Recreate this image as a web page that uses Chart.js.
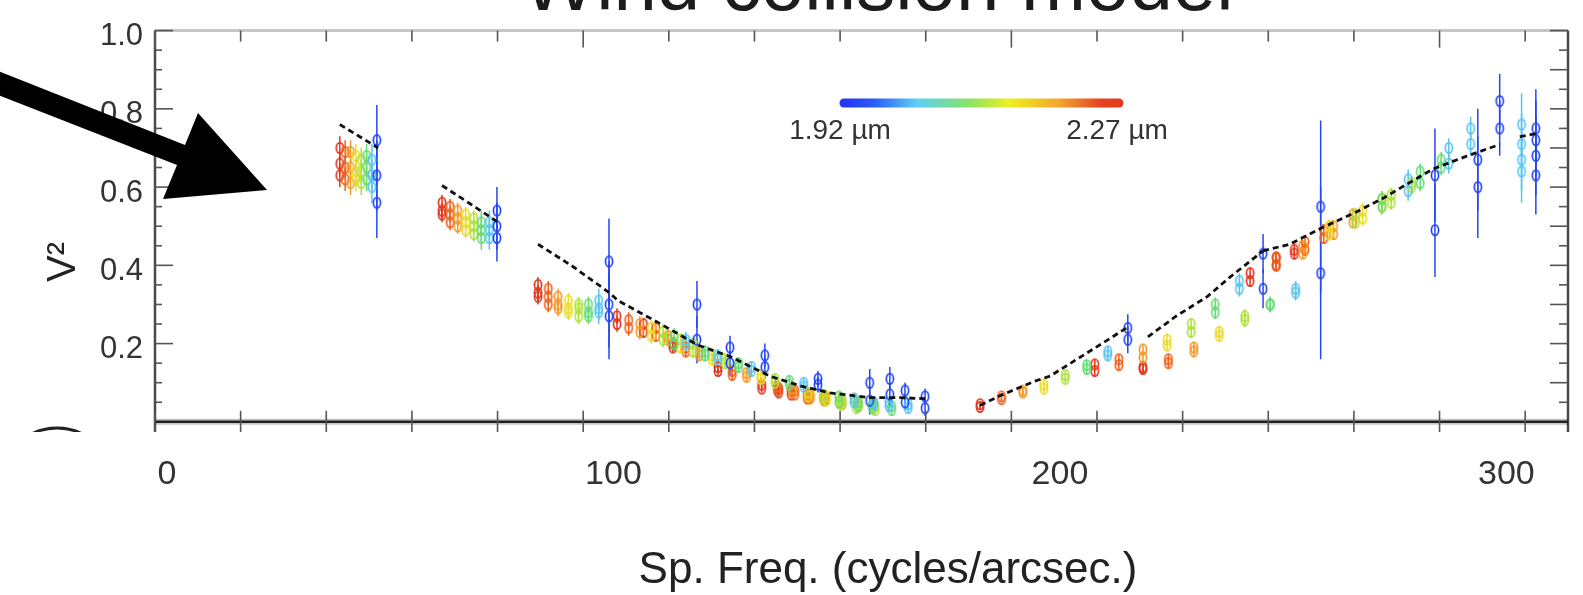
<!DOCTYPE html>
<html>
<head>
<meta charset="utf-8">
<title>Wind collision model</title>
<script src="https://cdn.jsdelivr.net/npm/chart.js@4.4.1/dist/chart.umd.min.js"></script>
<style>
  html, body { margin: 0; padding: 0; background: #fff; }
  #v2Chart { display: block; }
</style>
</head>
<body>
<canvas id="v2Chart" width="1583" height="595"></canvas>
<script>
// spectral channels, long -> short wavelength (red -> blue)
const wavelengths = [2.27, 2.22, 2.17, 2.12, 2.07, 2.02, 1.97, 1.92];
const channelColors = ['#e2361d', '#f0601c', '#f59a26', '#ecdc22', '#aee23a', '#62dc74', '#58c4f2', '#2446f4'];

const xTickValues = [0, 100, 200, 300];
const yLabelValues = [0.2, 0.4, 0.6, 0.8, 1.0];

// one block per baseline: sp. freq. per channel, repeated V2 rows, error per channel
// (shorter blocks use the last channels of the list)
const clA = { x: [38.7, 39.9, 41.1, 42.3, 43.5, 44.7, 45.9, 47.0],
  v2: [[0.70, 0.69, 0.69, 0.68, 0.67, 0.68, 0.67, 0.72],
       [0.66, 0.65, 0.65, 0.64, 0.64, 0.65, 0.63, 0.63],
       [0.63, 0.62, 0.61, 0.62, 0.61, 0.62, 0.60, 0.56]],
  err: [0.03, 0.03, 0.03, 0.03, 0.03, 0.03, 0.04, 0.09] };
const clB = { x: [61.6, 63.4, 65.1, 66.9, 68.7, 70.4, 72.2, 73.9],
  v2: [[0.56, 0.55, 0.54, 0.53, 0.52, 0.51, 0.51, 0.54],
       [0.54, 0.53, 0.52, 0.51, 0.50, 0.49, 0.49, 0.50],
       [0.53, 0.51, 0.50, 0.49, 0.48, 0.47, 0.47, 0.47]],
  err: [0.02, 0.02, 0.02, 0.02, 0.02, 0.03, 0.03, 0.06] };
const clC = { x: [83.1, 85.4, 87.6, 89.9, 92.2, 94.4, 96.7, 99.0],
  v2: [[0.35, 0.34, 0.32, 0.31, 0.30, 0.30, 0.31, 0.41],
       [0.33, 0.32, 0.30, 0.29, 0.29, 0.28, 0.29, 0.30],
       [0.32, 0.30, 0.29, 0.28, 0.27, 0.27, 0.28, 0.27]],
  err: [0.02, 0.02, 0.02, 0.02, 0.02, 0.02, 0.03, 0.11] };
const clD = { x: [100.8, 103.4, 105.9, 108.5, 111.1, 113.6, 116.2, 118.7],
  v2: [[0.27, 0.26, 0.25, 0.24, 0.23, 0.22, 0.21, 0.30],
       [0.25, 0.24, 0.23, 0.22, 0.21, 0.20, 0.20, 0.21]],
  err: [0.02, 0.02, 0.02, 0.02, 0.02, 0.02, 0.02, 0.06] };
const clE = { x: [106.7, 109.5, 112.2, 115.0, 117.8, 120.5, 123.3, 126.1],
  v2: [[0.25, 0.24, 0.22, 0.21, 0.20, 0.18, 0.17, 0.19],
       [0.23, 0.22, 0.21, 0.19, 0.18, 0.17, 0.16, 0.15]],
  err: [0.015, 0.015, 0.015, 0.015, 0.015, 0.015, 0.015, 0.03] };
const clF = { x: [113.3, 116.2, 119.2, 122.1, 125.0, 128.0, 130.9, 133.9],
  v2: [[0.20, 0.19, 0.18, 0.17, 0.16, 0.15, 0.14, 0.17],
       [0.19, 0.18, 0.17, 0.16, 0.15, 0.14, 0.13, 0.14]],
  err: [0.015, 0.015, 0.015, 0.015, 0.015, 0.015, 0.015, 0.03] };
const clG = { x: [123.4, 126.6, 129.8, 133.0, 136.2, 139.4, 142.6, 145.8],
  v2: [[0.14, 0.13, 0.125, 0.12, 0.11, 0.105, 0.10, 0.11],
       [0.13, 0.12, 0.115, 0.11, 0.10, 0.095, 0.09, 0.095]],
  err: [0.012, 0.012, 0.012, 0.012, 0.012, 0.012, 0.012, 0.02] };
const clH = { x: [133.2, 136.7, 140.1, 143.6, 147.0, 150.5, 153.9, 157.4],
  v2: [[0.095, 0.09, 0.085, 0.075, 0.07, 0.065, 0.06, 0.10],
       [0.085, 0.08, 0.075, 0.065, 0.06, 0.05, 0.05, 0.054]],
  err: [0.01, 0.01, 0.01, 0.01, 0.01, 0.01, 0.012, 0.035] };
const clI = { x: [137.0, 140.6, 144.1, 147.7, 151.2, 154.8, 158.3, 161.9],
  v2: [[0.085, 0.08, 0.07, 0.065, 0.055, 0.05, 0.05, 0.11],
       [0.075, 0.07, 0.06, 0.055, 0.045, 0.04, 0.045, 0.07]],
  err: [0.01, 0.01, 0.01, 0.01, 0.01, 0.01, 0.012, 0.03] };
const clJ = { x: [139.8, 143.4, 147.1, 150.7, 154.4, 158.0, 161.7, 165.3],
  v2: [[0.08, 0.07, 0.065, 0.055, 0.05, 0.045, 0.05, 0.08],
       [0.07, 0.06, 0.055, 0.045, 0.035, 0.035, 0.04, 0.05]],
  err: [0.01, 0.01, 0.01, 0.01, 0.01, 0.01, 0.012, 0.02] };
const clK = { x: [143.7, 147.4, 151.2, 154.9, 158.6, 162.3, 166.0, 169.8],
  v2: [[0.07, 0.065, 0.055, 0.05, 0.04, 0.04, 0.045, 0.065],
       [0.06, 0.055, 0.045, 0.04, 0.03, 0.03, 0.035, 0.035]],
  err: [0.01, 0.01, 0.01, 0.01, 0.01, 0.01, 0.012, 0.02] };
const clR1 = { x: [182.1, 186.9, 191.7, 196.4, 201.2, 206.0, 210.7, 215.2],
  v2: [[0.045, 0.065, 0.08, 0.095, 0.12, 0.145, 0.18, 0.24],
       [0.038, 0.058, 0.075, 0.085, 0.11, 0.135, 0.17, 0.21]],
  err: [0.008, 0.008, 0.01, 0.01, 0.01, 0.012, 0.015, 0.035] };
const clR2 = { x: [207.8, 213.2, 218.6, 224.0, 229.4, 234.8, 240.2, 245.5],
  v2: [[0.147, 0.16, 0.185, 0.21, 0.25, 0.30, 0.36, 0.43],
       [0.13, 0.145, 0.165, 0.195, 0.23, 0.28, 0.34, 0.34]],
  err: [0.012, 0.012, 0.012, 0.015, 0.015, 0.018, 0.02, 0.05] };
const clR3 = { x: [218.6, 224.3, 230.0, 235.7, 241.4, 247.1, 252.8, 258.4],
  v2: [[0.14, 0.16, 0.19, 0.23, 0.27, 0.30, 0.34, 0.55],
       [0.135, 0.15, 0.18, 0.22, 0.26, 0.30, 0.33, 0.38]],
  err: [0.012, 0.012, 0.015, 0.015, 0.018, 0.02, 0.02, 0.22] };
const clR4 = { x: [242.6, 248.5, 254.4, 260.3, 266.2, 272.1, 278.0, 284.0],
  v2: [[0.38, 0.42, 0.45, 0.50, 0.53, 0.57, 0.62, 0.63],
       [0.36, 0.40, 0.43, 0.48, 0.51, 0.55, 0.59, 0.49]],
  err: [0.015, 0.015, 0.015, 0.018, 0.018, 0.02, 0.025, 0.12] };
const clR5 = { x: [248.4, 254.9, 261.3, 267.8, 274.2, 280.7, 287.1, 293.6],
  v2: [[0.42, 0.46, 0.50, 0.54, 0.58, 0.64, 0.70, 0.67],
       [0.40, 0.44, 0.48, 0.52, 0.56, 0.61, 0.66, 0.60]],
  err: [0.015, 0.015, 0.015, 0.018, 0.018, 0.02, 0.025, 0.13] };
const clR6 = { x: [252.5, 259.1, 265.6, 272.2, 278.8, 285.4, 292.0, 298.5],
  v2: [[0.44, 0.49, 0.53, 0.57, 0.61, 0.67, 0.75, 0.82],
       [0.43, 0.47, 0.51, 0.55, 0.60, 0.65, 0.71, 0.75]],
  err: [0.015, 0.015, 0.015, 0.018, 0.018, 0.02, 0.03, 0.07] };
const clR7 = { x: [303.4, 306.6],
  v2: [[0.76, 0.75], [0.71, 0.72], [0.67, 0.68], [0.64, 0.63]],
  err: [0.08, 0.1] };

// wind collision model curve, in pieces
const modelA = [[38.7, 0.76], [43.0, 0.73], [47.3, 0.70]];
const modelB = [[61.6, 0.604], [67.8, 0.558], [73.9, 0.512]];
const modelBand = [[83.1, 0.454], [90.9, 0.397], [99.2, 0.329], [101.0, 0.31], [110.6, 0.25], [118.7, 0.197],
  [126.1, 0.167], [135.0, 0.117], [141.8, 0.092], [148.5, 0.074], [157.4, 0.062], [164.2, 0.062], [169.8, 0.059]];
const modelR1 = [[182.1, 0.042], [186.6, 0.067], [194.4, 0.104], [197.8, 0.117], [209.4, 0.20], [215.2, 0.242]];
const modelR3 = [[219.7, 0.217], [226.0, 0.27], [233.0, 0.32], [238.1, 0.37], [245.5, 0.437]];
const modelRise = [[245.5, 0.437], [251.5, 0.454], [258.7, 0.496], [266.5, 0.537], [272.3, 0.571],
  [278.4, 0.612], [283.5, 0.646], [291.1, 0.679], [298.5, 0.709]];
const modelR7 = [[303.0, 0.729], [306.8, 0.737]];

const FONT = '"Liberation Sans", Arial, Helvetica, sans-serif';
Chart.defaults.font.family = FONT;

// small open oval marker, one per channel colour
function ovalMarker(color) {
  const c = document.createElement('canvas');
  c.width = 12; c.height = 14;
  const g = c.getContext('2d');
  g.strokeStyle = color; g.lineWidth = 1.7;
  g.beginPath(); g.ellipse(6, 7, 3.6, 5.2, 0, 0, Math.PI * 2); g.stroke();
  return c;
}

const clusters = [clA, clB, clC, clD, clE, clF, clG, clH, clI, clJ, clK, clR1, clR2, clR3, clR4, clR5, clR6, clR7];
const pointSets = wavelengths.map((wl, c) => ({
  type: 'scatter',
  label: wl.toFixed(2) + ' µm',
  data: [],
  isPoints: true,
  borderColor: channelColors[c],
  backgroundColor: 'rgba(255,255,255,0)',
  pointStyle: ovalMarker(channelColors[c]),
  pointRadius: 5,
  pointHoverRadius: 5,
  order: 1 + (wavelengths.length - 1 - c)
}));
clusters.forEach(cl => {
  const off = wavelengths.length - cl.x.length;
  cl.v2.forEach(row => row.forEach((v, j) => {
    if (v == null) return;
    pointSets[off + j].data.push({ x: cl.x[j], y: v, err: cl.err[j] });
  }));
});

const modelSets = [modelA, modelB, modelBand, modelR1, modelR3, modelRise, modelR7].map(seg => ({
  type: 'line',
  label: 'model',
  data: seg.map(p => ({ x: p[0], y: p[1] })),
  borderColor: '#111',
  borderWidth: 2.8,
  borderDash: [6, 4],
  pointRadius: 0,
  fill: false,
  tension: 0,
  order: 0
}));

function seg(ctx, x1, y1, x2, y2) {
  ctx.beginPath(); ctx.moveTo(x1, y1); ctx.lineTo(x2, y2); ctx.stroke();
}

const decor = {
  id: 'decor',
  beforeDatasetsDraw(chart) {
    // vertical error bars under the markers
    const { ctx, chartArea: a, scales: { y } } = chart;
    ctx.save();
    ctx.beginPath(); ctx.rect(a.left, a.top, a.right - a.left, a.bottom - a.top); ctx.clip();
    ctx.lineWidth = 1.5;
    chart.data.datasets.forEach((ds, i) => {
      if (!ds.isPoints) return;
      ctx.strokeStyle = ds.borderColor;
      chart.getDatasetMeta(i).data.forEach((el, j) => {
        const d = ds.data[j];
        seg(ctx, el.x, y.getPixelForValue(d.y + d.err), el.x, y.getPixelForValue(d.y - d.err));
      });
    });
    ctx.restore();
  },
  afterDraw(chart) {
    const { ctx, chartArea: a, scales: { y, xf } } = chart;
    const y0 = y.getPixelForValue(0);
    ctx.save();

    // frame
    ctx.strokeStyle = '#c6c6c6'; ctx.lineWidth = 3;
    seg(ctx, a.left, a.top, a.right, a.top);
    ctx.strokeStyle = '#4a4a4a'; ctx.lineWidth = 2.5;
    seg(ctx, a.left, a.top, a.left, a.bottom);
    seg(ctx, a.right, a.top, a.right, a.bottom);
    ctx.strokeStyle = 'rgba(0,0,0,0.22)'; ctx.lineWidth = 6;
    seg(ctx, a.left, y0, a.right, y0);
    ctx.strokeStyle = '#222'; ctx.lineWidth = 2.5;
    seg(ctx, a.left, y0, a.right, y0);

    // tick marks
    ctx.strokeStyle = '#555'; ctx.lineWidth = 1.6;
    xf.ticks.forEach(t => {
      if (t.value % 20 !== 0) return;
      const px = xf.getPixelForValue(t.value);
      const major = t.value % 100 === 0;
      seg(ctx, px, a.top, px, a.top + (major ? 17 : 11));
      seg(ctx, px, y0 - 11, px, a.bottom);
    });
    y.ticks.forEach(t => {
      const py = y.getPixelForValue(t.value);
      const v = Math.round(t.value * 100);
      seg(ctx, a.left, py, a.left + (v % 20 === 0 ? 18 : 7), py);
      seg(ctx, a.right - (v % 10 === 0 ? 18 : 9), py, a.right, py);
    });

    // wavelength colour bar
    const gx0 = 840, gx1 = 1123, gy = 103;
    const grad = ctx.createLinearGradient(gx0, 0, gx1, 0);
    grad.addColorStop(0, '#2233f0');
    grad.addColorStop(0.12, '#2a5cf5');
    grad.addColorStop(0.27, '#5ccff5');
    grad.addColorStop(0.45, '#86e26a');
    grad.addColorStop(0.6, '#eef020');
    grad.addColorStop(0.78, '#f2a22e');
    grad.addColorStop(0.92, '#e5431e');
    grad.addColorStop(1, '#e03a1c');
    ctx.strokeStyle = grad; ctx.lineWidth = 9; ctx.lineCap = 'round';
    seg(ctx, gx0 + 4, gy, gx1 - 4, gy);
    ctx.lineCap = 'butt';
    ctx.fillStyle = '#333';
    ctx.font = '28px ' + FONT;
    ctx.textAlign = 'center'; ctx.textBaseline = 'middle';
    ctx.fillText(wavelengths[wavelengths.length - 1].toFixed(2) + ' µm', 840, 131);
    ctx.fillText(wavelengths[0].toFixed(2) + ' µm', 1117, 131);

    // title, cut by the top edge
    ctx.fillStyle = '#1c1c1c';
    ctx.font = '78px ' + FONT;
    ctx.textBaseline = 'alphabetic';
    ctx.fillText('Wind collision model', 878, 10);

    // axis titles
    ctx.fillStyle = '#222';
    ctx.font = '44px ' + FONT;
    ctx.fillText('Sp. Freq. (cycles/arcsec.)', 888, 583);
    ctx.save();
    ctx.translate(64, 262); ctx.rotate(-Math.PI / 2);
    ctx.font = '40px ' + FONT; ctx.textBaseline = 'middle';
    ctx.fillText('V²', 0, 0);
    ctx.restore();

    // pointer arrow
    ctx.fillStyle = '#000';
    ctx.beginPath();
    ctx.moveTo(-2, 71); ctx.lineTo(185, 145); ctx.lineTo(198, 113); ctx.lineTo(267, 190);
    ctx.lineTo(163, 199); ctx.lineTo(177, 165); ctx.lineTo(-2, 95);
    ctx.closePath(); ctx.fill();

    // cut-off outline bottom left
    ctx.save();
    ctx.beginPath(); ctx.rect(0, 400, 150, a.bottom - 400); ctx.clip();
    ctx.strokeStyle = '#222'; ctx.lineWidth = 3;
    ctx.beginPath(); ctx.ellipse(57, 458, 42, 30, 0, 0, Math.PI * 2); ctx.stroke();
    ctx.restore();

    ctx.restore();
  }
};

new Chart(document.getElementById('v2Chart'), {
  type: 'scatter',
  data: { datasets: [...modelSets, ...pointSets] },
  options: {
    responsive: false,
    animation: false,
    devicePixelRatio: 1,
    layout: { padding: { top: 22, right: 15, left: 0, bottom: 0 } },
    plugins: { legend: { display: false }, tooltip: { enabled: false } },
    scales: {
      x: {
        type: 'linear', position: 'bottom', min: -2.69, max: 313.8,
        afterBuildTicks: s => { s.ticks = xTickValues.map(v => ({ value: v })); },
        afterFit: s => { s.height = 163; },
        grid: { display: false, drawTicks: false },
        border: { display: false },
        ticks: { padding: 22, autoSkip: false, maxRotation: 0, color: '#333',
                 font: { size: 34 }, callback: v => String(v) }
      },
      xf: { type: 'linear', position: 'bottom', min: 0, max: 330, display: false, ticks: { stepSize: 20 } },
      y: {
        type: 'linear', position: 'left', min: -0.026, max: 1.0,
        afterBuildTicks: s => { s.ticks = s.ticks.filter(t => t.value > -1e-6); },
        afterFit: s => { s.width = 155; },
        grid: { display: false, drawTicks: false },
        border: { display: false },
        ticks: { stepSize: 0.05, padding: 12, labelOffset: 6, autoSkip: false, color: '#333',
                 font: { size: 31 },
                 callback: v => yLabelValues.some(t => Math.abs(t - v) < 1e-6) ? Number(v).toFixed(1) : '' }
      }
    }
  },
  plugins: [decor]
});
</script>
</body>
</html>
